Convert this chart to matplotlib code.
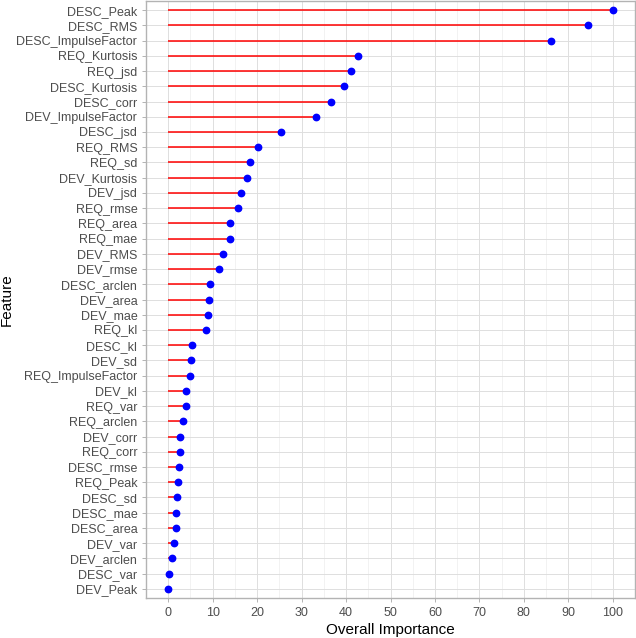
import matplotlib
matplotlib.use("Agg")
import matplotlib.pyplot as plt
from matplotlib.ticker import MultipleLocator

# features, top to bottom
features = [
    "DESC_Peak", "DESC_RMS", "DESC_ImpulseFactor", "REQ_Kurtosis", "REQ_jsd",
    "DESC_Kurtosis", "DESC_corr", "DEV_ImpulseFactor", "DESC_jsd", "REQ_RMS",
    "REQ_sd", "DEV_Kurtosis", "DEV_jsd", "REQ_rmse", "REQ_area",
    "REQ_mae", "DEV_RMS", "DEV_rmse", "DESC_arclen", "DEV_area",
    "DEV_mae", "REQ_kl", "DESC_kl", "DEV_sd", "REQ_ImpulseFactor",
    "DEV_kl", "REQ_var", "REQ_arclen", "DEV_corr", "REQ_corr",
    "DESC_rmse", "REQ_Peak", "DESC_sd", "DESC_mae", "DESC_area",
    "DEV_var", "DEV_arclen", "DESC_var", "DEV_Peak",
]
importance = [
    100.0, 94.5, 86.2, 42.7, 41.2,
    39.5, 36.7, 33.2, 25.3, 20.2,
    18.4, 17.8, 16.3, 15.7, 13.9,
    13.9, 12.3, 11.4, 9.4, 9.1,
    9.0, 8.5, 5.3, 5.1, 5.0,
    4.1, 4.1, 3.4, 2.6, 2.6,
    2.5, 2.1, 2.0, 1.8, 1.8,
    1.3, 0.75, 0.15, 0.0,
]

plt.rcParams['font.family'] = ['Liberation Sans', 'DejaVu Sans']

fig = plt.figure(figsize=(6.36, 6.38), dpi=100)
ax = fig.add_axes([146 / 636, 1 - 598 / 638, 489 / 636, 597 / 638])

n = len(features)
ypos = list(range(n - 1, -1, -1))

ax.hlines(ypos, 0, importance, color="red", linewidth=1.1, zorder=3)
ax.plot(importance, ypos, "o", color="blue", markersize=4.6, zorder=4)

ax.set_yticks(ypos)
ax.set_yticklabels(features)
ax.set_ylim(-0.6, n - 0.4)
ax.set_xlim(-5, 105)
ax.xaxis.set_major_locator(MultipleLocator(10))
ax.xaxis.set_minor_locator(MultipleLocator(5))

ax.grid(which="major", color="#DEDEDE", linewidth=0.7, zorder=0)
ax.grid(which="minor", axis="x", color="#EDEDED", linewidth=0.5, zorder=0)
ax.set_axisbelow(True)

for s in ax.spines.values():
    s.set_color("#B3B3B3")
    s.set_linewidth(1.0)

ax.tick_params(which="major", colors="#B3B3B3", labelcolor="#4D4D4D",
               labelsize=9, length=2.75, width=0.7)
ax.tick_params(which="minor", length=0)

ax.set_xlabel("Overall Importance", fontsize=11, color="black", labelpad=3)
ax.set_ylabel("Feature", fontsize=11, color="black")
ax.yaxis.set_label_coords(14 / 636, 0.5 * (1 - 598 / 638 + 1 - 1 / 638),
                          transform=fig.transFigure)

fig.savefig("out.png", dpi=100)
